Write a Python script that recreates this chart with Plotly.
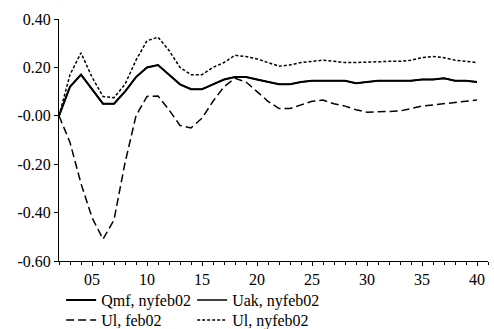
import plotly.graph_objects as go

# Horizon (periods) and impulse responses
periods = list(range(2, 41))

qmf_nyfeb02 = [0.00, 0.12, 0.17, 0.11, 0.05, 0.05, 0.10, 0.16, 0.20, 0.21,
               0.17, 0.13, 0.11, 0.11, 0.13, 0.15, 0.16, 0.16, 0.15, 0.14,
               0.13, 0.13, 0.14, 0.145, 0.145, 0.145, 0.145, 0.135, 0.14, 0.145,
               0.145, 0.145, 0.145, 0.15, 0.15, 0.155, 0.145, 0.145, 0.14]

uak_nyfeb02 = [0.00, 0.12, 0.17, 0.11, 0.05, 0.05, 0.10, 0.16, 0.20, 0.21,
               0.17, 0.13, 0.11, 0.11, 0.13, 0.15, 0.16, 0.16, 0.15, 0.14,
               0.13, 0.13, 0.14, 0.145, 0.145, 0.145, 0.145, 0.135, 0.14, 0.145,
               0.145, 0.145, 0.145, 0.15, 0.15, 0.155, 0.145, 0.145, 0.14]

ul_feb02 = [0.00, -0.11, -0.28, -0.42, -0.51, -0.43, -0.195, 0.00, 0.08, 0.082,
            0.025, -0.04, -0.05, -0.01, 0.06, 0.12, 0.155, 0.14, 0.10, 0.06,
            0.03, 0.03, 0.045, 0.06, 0.065, 0.05, 0.04, 0.025, 0.015, 0.015,
            0.018, 0.02, 0.03, 0.04, 0.045, 0.05, 0.055, 0.06, 0.065]

ul_nyfeb02 = [0.00, 0.17, 0.26, 0.16, 0.08, 0.075, 0.13, 0.23, 0.31, 0.325,
              0.27, 0.20, 0.17, 0.17, 0.20, 0.22, 0.25, 0.245, 0.235, 0.22,
              0.205, 0.21, 0.22, 0.225, 0.23, 0.225, 0.22, 0.22, 0.222, 0.225,
              0.225, 0.225, 0.23, 0.24, 0.245, 0.24, 0.23, 0.225, 0.22]

x_tickvals = [5, 10, 15, 20, 25, 30, 35, 40]
x_ticktext = ["05", "10", "15", "20", "25", "30", "35", "40"]
y_tickvals = [0.4, 0.2, 0.0, -0.2, -0.4, -0.6]
y_ticktext = ["0.40", "0.20", "-0.00", "-0.20", "-0.40", "-0.60"]

FONT = "Liberation Serif"
FSIZE = 16

fig = go.Figure()
fig.add_trace(go.Scatter(x=periods, y=qmf_nyfeb02, mode="lines", name="Qmf, nyfeb02",
                         legend="legend", line=dict(color="black", width=2)))
fig.add_trace(go.Scatter(x=periods, y=uak_nyfeb02, mode="lines", name="Uak, nyfeb02",
                         legend="legend", line=dict(color="black", width=1.5)))
fig.add_trace(go.Scatter(x=periods, y=ul_feb02, mode="lines", name="Ul, feb02",
                         legend="legend2", line=dict(color="black", width=1.5, dash="8px,4px")))
fig.add_trace(go.Scatter(x=periods, y=ul_nyfeb02, mode="lines", name="Ul, nyfeb02",
                         legend="legend2", line=dict(color="black", width=1.5, dash="3px,2px")))

# Two legend rows placed in container coordinates so they don't push the plot margins
legend_common = dict(orientation="h", x=0.005, xanchor="left", yanchor="top",
                     yref="container",
                     entrywidth=86, entrywidthmode="pixels",
                     font=dict(family=FONT, size=FSIZE), itemwidth=30,
                     bgcolor="rgba(0,0,0,0)")

fig.update_layout(
    width=494, height=329,
    margin=dict(l=59, r=6, t=19, b=68, autoexpand=False),
    paper_bgcolor="white", plot_bgcolor="white",
    font=dict(family=FONT, size=FSIZE, color="black"),
    showlegend=True,
    legend=dict(y=1 - 283 / 329, **legend_common),
    legend2=dict(y=1 - 303 / 329, **legend_common),
    xaxis=dict(range=[2, 41], showgrid=False, zeroline=False,
               showline=True, linecolor="black", linewidth=1,
               ticks="outside", ticklen=4, tickcolor="black",
               tickvals=x_tickvals, ticktext=x_ticktext,
               tickfont=dict(family=FONT, size=FSIZE),
               minor=dict(dtick=1, ticks="outside", ticklen=3, tickcolor="black", showgrid=False)),
    yaxis=dict(range=[-0.6, 0.4], showgrid=False, zeroline=False,
               showline=True, linecolor="black", linewidth=1,
               ticks="outside", ticklen=4, tickcolor="black",
               tickfont=dict(family=FONT, size=FSIZE),
               tickvals=y_tickvals, ticktext=y_ticktext),
)

fig.write_html("out.html")
